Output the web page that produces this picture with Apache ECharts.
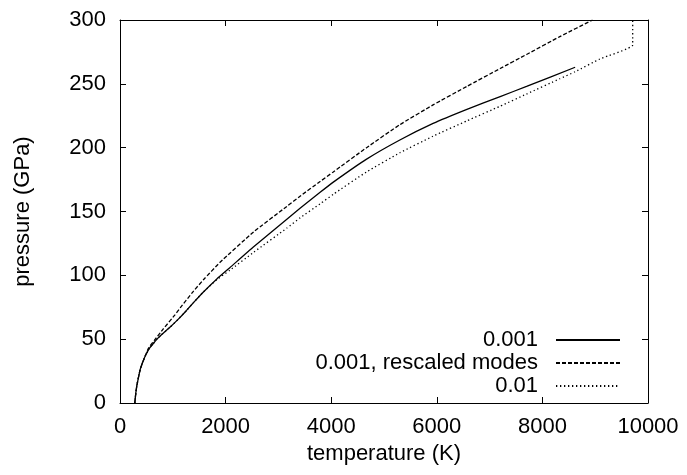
<!DOCTYPE html>
<html>
<head>
<meta charset="utf-8">
<script src="https://cdn.jsdelivr.net/npm/echarts@6/dist/echarts.min.js"></script>
<style>html,body{margin:0;padding:0;background:#fff}#c{width:687px;height:475px}</style>
</head>
<body>
<div id="c"></div>
<script>
const seriesNames = ['0.001', '0.001, rescaled modes', '0.01'];
const xTicks = [0, 2000, 4000, 6000, 8000, 10000];
const yTicks = [0, 50, 100, 150, 200, 250, 300];

const solidT = [280,300,320,350,380,430,480,560,640,700,800,950,1100,1260,1400,1580,1830,2080,2520,3160,3410,3790,4040,4670,5300,5930,6570,7200,7700,8620];
const solidP = [0,8,14,20,26,32,37,43,47,50,54,59.5,65.5,72.5,79,87,97,106,122,144,152.5,165,173,191,206,219,230,240,248,263];

const dashT = [280,300,330,370,420,480,540,650,820,1040,1140,1390,1580,1890,2530,3160,3410,3790,4040,4670,5300,5930,6570,7200,7700,8330,8950];
const dashP = [0,8,16,24,31,37,43,49,58,69,74.5,87.5,96.5,110,134,154,162,173.5,181,200,218,233.5,248,262,273,287,300];

const dotT = [280,300,320,350,380,430,480,560,640,700,800,950,1100,1260,1400,1580,1830,2080,2530,3160,3410,3790,4040,4670,5300,5930,6570,7200,7700,8330,8620,9090,9710,9710];
const dotP = [0,8,14,20,26,32,37,43,47,50,54,59.5,65.5,72.5,79,87,96.5,104,118,137,145,156,163.5,181,196,209,221,232.5,242,254,259.5,269.5,280.5,300];

function zip(a, b) { return a.map((v, i) => [v, b[i]]); }

const FONT = 'Liberation Sans';
const FS = 22;
const chart = echarts.init(document.getElementById('c'), null, {renderer: 'canvas'});
const axisLine = {show: true, onZero: false, lineStyle: {color: '#000', width: 1}};
const tick = {show: true, inside: true, length: 6, lineStyle: {color: '#000'}};
chart.setOption({
  animation: false,
  backgroundColor: '#fff',
  grid: {left: 120, right: 39, top: 20, bottom: 72},
  legend: {
    orient: 'vertical',
    right: 61,
    top: 324,
    align: 'right',
    itemWidth: 64,
    itemHeight: 12,
    itemGap: 1,
    itemStyle: {color: 'rgba(0,0,0,0)', borderWidth: 0, opacity: 0},
    textStyle: {fontFamily: FONT, fontSize: FS, color: '#000', padding: [0, 13, 0, 0]},
    data: seriesNames
  },
  xAxis: [{
    type: 'value', min: 0, max: 10000, interval: 2000, position: 'bottom',
    name: 'temperature (K)', nameLocation: 'middle', nameGap: 36,
    nameTextStyle: {fontFamily: FONT, fontSize: FS, color: '#000'},
    axisLine: axisLine, axisTick: tick,
    axisLabel: {fontFamily: FONT, fontSize: FS, color: '#000', margin: 13, formatter: v => String(v)},
    splitLine: {show: false}
  }, {
    type: 'value', min: 0, max: 10000, interval: 2000, position: 'top',
    axisLine: axisLine, axisTick: tick,
    axisLabel: {show: false}, splitLine: {show: false}
  }],
  yAxis: [{
    type: 'value', min: 0, max: 300, interval: 50, position: 'left',
    name: 'pressure (GPa)', nameLocation: 'middle', nameGap: 86, nameRotate: 90,
    nameTextStyle: {fontFamily: FONT, fontSize: FS, color: '#000'},
    axisLine: axisLine, axisTick: tick,
    axisLabel: {fontFamily: FONT, fontSize: FS, color: '#000', margin: 14},
    splitLine: {show: false}
  }, {
    type: 'value', min: 0, max: 300, interval: 50, position: 'right',
    axisLine: axisLine, axisTick: tick,
    axisLabel: {show: false}, splitLine: {show: false}
  }],
  series: [{
    name: seriesNames[0], type: 'line', showSymbol: false, symbol: 'none',
    smooth: 0.15,
    data: zip(solidT, solidP),
    lineStyle: {color: '#000', width: 1.3, type: 'solid'},
    itemStyle: {color: '#000'}
  }, {
    name: seriesNames[1], type: 'line', showSymbol: false, symbol: 'none',
    smooth: 0.15,
    data: zip(dashT, dashP),
    lineStyle: {color: '#000', width: 1.3, type: [4, 2]},
    itemStyle: {color: '#000'}
  }, {
    name: seriesNames[2], type: 'line', showSymbol: false, symbol: 'none',
    smooth: 0.15,
    data: zip(dotT, dotP),
    lineStyle: {color: '#000', width: 1.3, type: [1.3, 2.7]},
    itemStyle: {color: '#000'}
  }]
});
</script>
</body>
</html>
